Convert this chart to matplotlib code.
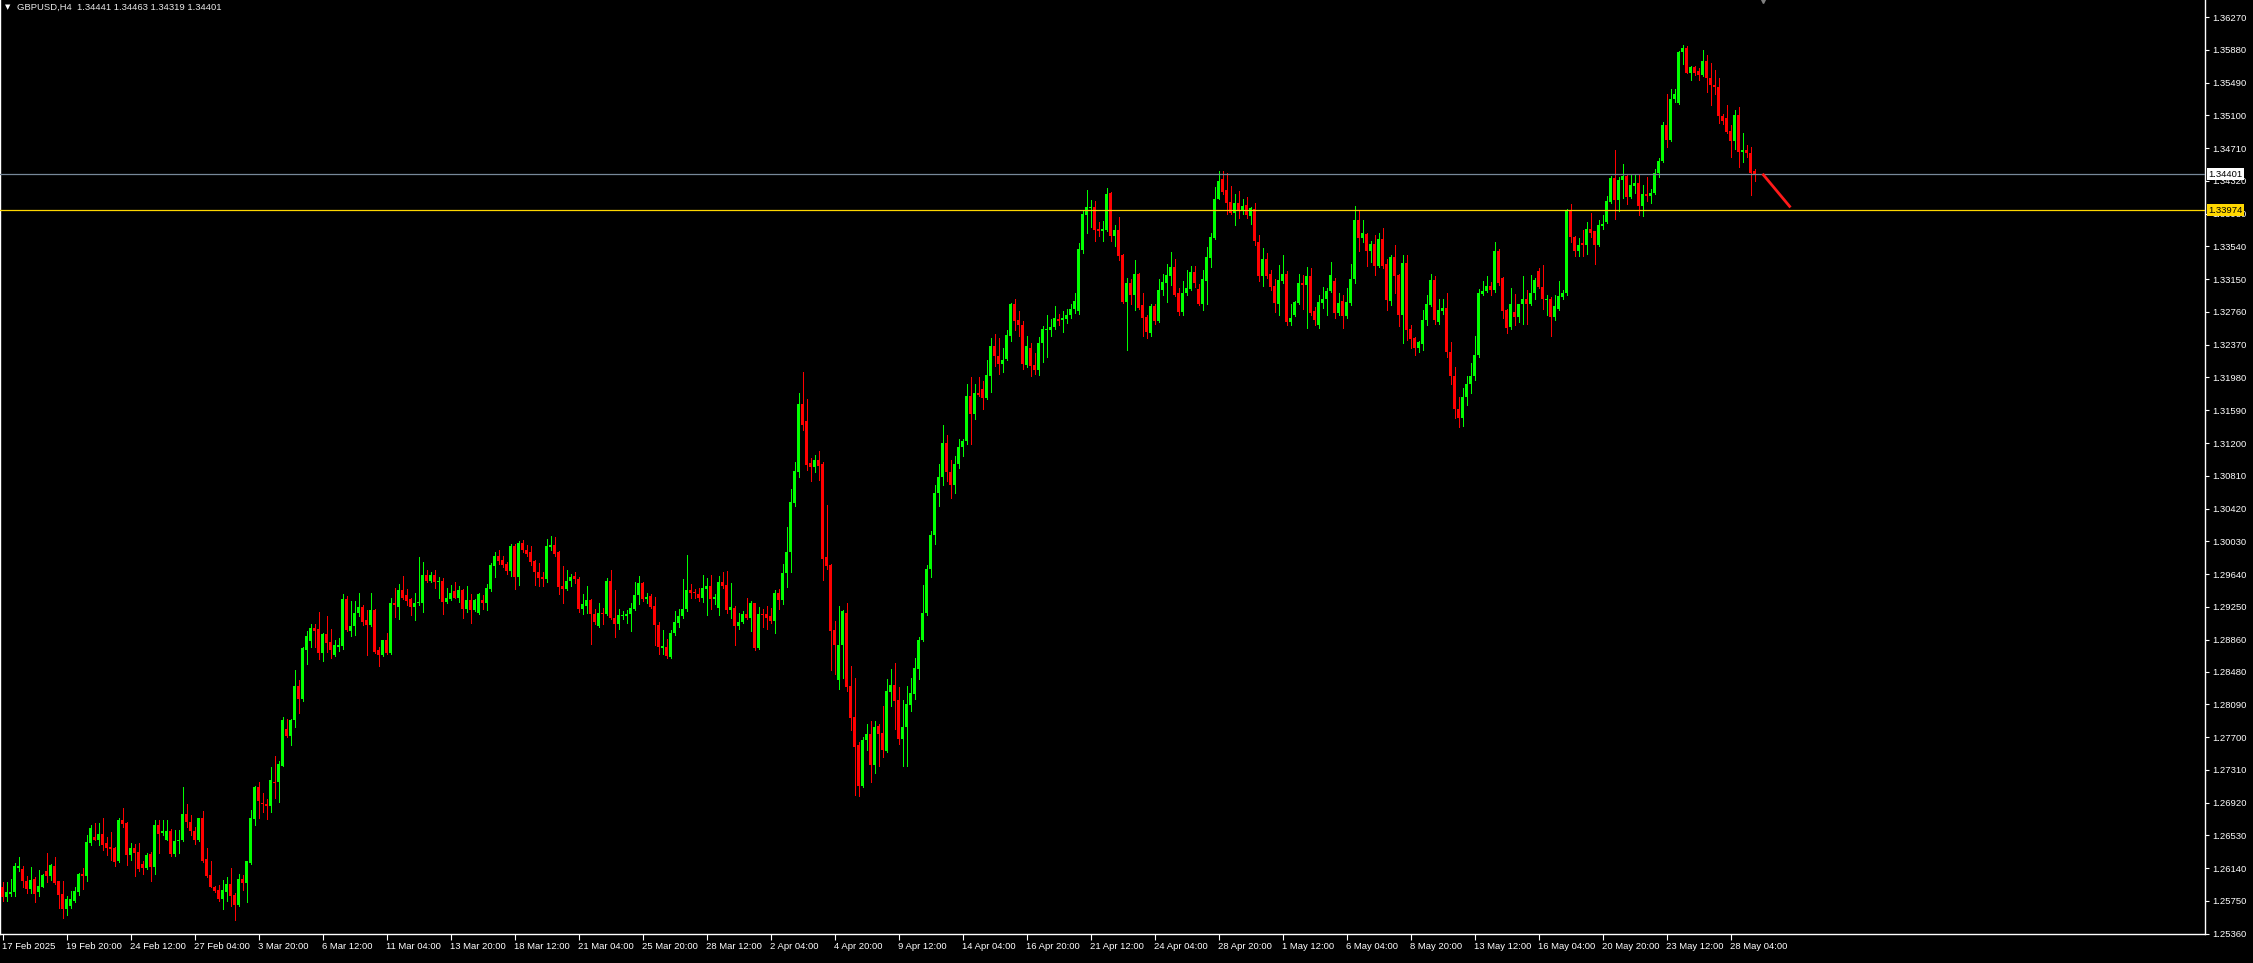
import numpy as np
import matplotlib.pyplot as plt
from matplotlib.transforms import blended_transform_factory

# GBPUSD H4 candles, prices in units of 0.0001
opens = [
    12592, 12579, 12583, 12585, 12614, 12613, 12599, 12589, 12601, 12585,
    12592, 12610, 12605, 12617, 12598, 12583, 12565, 12569, 12575, 12586,
    12607, 12605, 12644, 12651, 12648, 12654, 12644, 12639, 12638, 12622,
    12671, 12668, 12630, 12638, 12633, 12619, 12614, 12631, 12615, 12665,
    12656, 12648, 12658, 12631, 12646, 12647, 12678, 12669, 12658, 12647,
    12673, 12625, 12606, 12591, 12588, 12577, 12586, 12595, 12582, 12570,
    12601, 12596, 12620, 12672, 12710, 12692, 12690, 12688, 12717, 12716,
    12736, 12780, 12771, 12790, 12831, 12815, 12874, 12884, 12900, 12898,
    12870, 12893, 12883, 12868, 12877, 12878, 12934, 12896, 12902, 12918,
    12925, 12909, 12903, 12921, 12873, 12868, 12885, 12870, 12930, 12925,
    12945, 12939, 12934, 12925, 12929, 12930, 12963, 12956, 12963, 12954,
    12956, 12931, 12934, 12944, 12936, 12945, 12923, 12933, 12921, 12918,
    12933, 12929, 12946, 12974, 12986, 12981, 12976, 12968, 12997, 12961,
    13001, 12993, 12990, 12979, 12967, 12961, 12958, 12996, 12998, 12990,
    12950, 12946, 12956, 12962, 12958, 12922, 12926, 12933, 12916, 12902,
    12918, 12917, 12956, 12912, 12904, 12914, 12914, 12916, 12923, 12939,
    12953, 12934, 12938, 12926, 12903, 12876, 12877, 12865, 12894, 12906,
    12914, 12922, 12945, 12942, 12940, 12935, 12946, 12950, 12934, 12924,
    12955, 12951, 12921, 12924, 12902, 12907, 12916, 12912, 12929, 12876,
    12916, 12916, 12914, 12908, 12942, 12933, 12965, 12990, 13049, 13086,
    13167, 13146, 13096, 13092, 13100, 13095, 12984, 12975, 12897, 12838,
    12879, 12918, 12831, 12794, 12760, 12712, 12767, 12773, 12737, 12783,
    12775, 12753, 12824, 12832, 12814, 12768, 12782, 12808, 12821, 12851,
    12885, 12918, 12970, 13010, 13060, 13080, 13120, 13085, 13070, 13095,
    13115, 13122, 13176, 13154, 13180, 13184, 13174, 13200, 13236, 13224,
    13214, 13220, 13248, 13285, 13267, 13261, 13213, 13233, 13213, 13207,
    13239, 13254, 13255, 13258, 13268, 13267, 13268, 13272, 13279, 13277,
    13350, 13392, 13400, 13401, 13375, 13373, 13374, 13418, 13367, 13374,
    13344, 13288, 13310, 13296, 13321, 13284, 13270, 13251, 13283, 13265,
    13302, 13311, 13319, 13329, 13298, 13276, 13298, 13303, 13323, 13303,
    13285, 13313, 13340, 13364, 13411, 13434, 13421, 13407, 13394, 13406,
    13397, 13403, 13390, 13399, 13359, 13319, 13339, 13321, 13307, 13286,
    13313, 13321, 13264, 13272, 13287, 13311, 13308, 13319, 13277, 13260,
    13287, 13292, 13301, 13313, 13275, 13289, 13271, 13287, 13315, 13385,
    13364, 13369, 13349, 13357, 13331, 13363, 13333, 13289, 13341, 13320,
    13273, 13334, 13256, 13245, 13233, 13238, 13266, 13284, 13314, 13264,
    13277, 13281, 13228, 13200, 13160, 13150, 13175, 13190, 13200, 13225,
    13297, 13301, 13307, 13302, 13348, 13316, 13278, 13258, 13276, 13270,
    13285, 13292, 13285, 13298, 13325, 13306, 13290, 13292, 13270, 13279,
    13294, 13298, 13397, 13365, 13349, 13358, 13356, 13375, 13372, 13356,
    13378, 13383, 13407, 13435, 13409, 13433, 13438, 13413, 13426, 13430,
    13402, 13417, 13414, 13418, 13441, 13456, 13499, 13481, 13529, 13525,
    13585, 13590, 13561, 13568, 13563, 13558, 13575, 13554, 13546, 13544,
    13509, 13507, 13492, 13479, 13511, 13467, 13469, 13465, 13444.1,
]
highs = [
    12597, 12597, 12601, 12620, 12627, 12616, 12604, 12615, 12603, 12612,
    12607, 12632, 12619, 12627, 12599, 12599, 12581, 12587, 12592, 12608,
    12614, 12653, 12665, 12668, 12668, 12673, 12651, 12657, 12639, 12673,
    12685, 12669, 12644, 12643, 12644, 12622, 12632, 12633, 12671, 12671,
    12671, 12671, 12660, 12659, 12659, 12710, 12690, 12677, 12663, 12674,
    12682, 12638, 12623, 12593, 12594, 12600, 12603, 12614, 12584, 12607,
    12606, 12623, 12683, 12712, 12717, 12703, 12696, 12734, 12747, 12741,
    12794, 12792, 12792, 12850, 12838, 12877, 12896, 12904, 12904, 12919,
    12894, 12914, 12899, 12885, 12888, 12940, 12938, 12932, 12932, 12942,
    12927, 12921, 12942, 12922, 12877, 12886, 12894, 12936, 12947, 12952,
    12962, 12946, 12936, 12942, 12984, 12978, 12969, 12966, 12969, 12961,
    12959, 12947, 12951, 12954, 12950, 12946, 12950, 12940, 12934, 12941,
    12939, 12952, 12977, 12990, 12993, 12985, 12978, 13000, 13000, 13003,
    13005, 12998, 12997, 12981, 12977, 12967, 13006, 13009, 13008, 12991,
    12974, 12969, 12964, 12967, 12960, 12940, 12950, 12934, 12923, 12929,
    12924, 12959, 12969, 12945, 12923, 12920, 12921, 12930, 12955, 12962,
    12954, 12942, 12940, 12937, 12907, 12897, 12887, 12897, 12920, 12923,
    12958, 12987, 12952, 12946, 12947, 12963, 12959, 12963, 12940, 12962,
    12967, 12968, 12953, 12926, 12918, 12920, 12935, 12932, 12930, 12925,
    12923, 12926, 12924, 12945, 12946, 12976, 13020, 13065, 13097, 13180,
    13204, 13172, 13102, 13106, 13110, 13097, 13046, 12976, 12908, 12926,
    12921, 12929, 12855, 12840, 12764, 12770, 12785, 12789, 12789, 12785,
    12807, 12839, 12851, 12858, 12830, 12814, 12831, 12840, 12864, 12889,
    12951, 12975, 13015, 13070, 13095, 13142, 13130, 13100, 13105, 13125,
    13125, 13190, 13198, 13190, 13198, 13194, 13219, 13245, 13250, 13245,
    13233, 13255, 13287, 13291, 13277, 13265, 13248, 13239, 13227, 13246,
    13259, 13272, 13268, 13283, 13274, 13277, 13279, 13285, 13298, 13358,
    13396, 13421, 13409, 13408, 13383, 13384, 13424, 13419, 13379, 13389,
    13345, 13317, 13315, 13338, 13323, 13299, 13272, 13285, 13286, 13315,
    13321, 13333, 13348, 13339, 13304, 13313, 13326, 13331, 13331, 13309,
    13326, 13353, 13370, 13425, 13444, 13444, 13442, 13426, 13417, 13420,
    13410, 13413, 13401, 13406, 13368, 13352, 13346, 13326, 13315, 13332,
    13344, 13325, 13286, 13289, 13321, 13320, 13329, 13328, 13282, 13296,
    13306, 13305, 13335, 13316, 13299, 13296, 13304, 13333, 13402, 13396,
    13386, 13370, 13360, 13368, 13370, 13376, 13339, 13344, 13356, 13321,
    13344, 13344, 13261, 13246, 13241, 13278, 13296, 13321, 13319, 13292,
    13292, 13298, 13240, 13210, 13175, 13185, 13200, 13215, 13248, 13303,
    13313, 13319, 13312, 13359, 13351, 13318, 13279, 13304, 13297, 13286,
    13319, 13302, 13320, 13317, 13328, 13332, 13296, 13294, 13296, 13313,
    13302, 13398, 13404, 13367, 13364, 13374, 13383, 13394, 13373, 13386,
    13391, 13414, 13438, 13469, 13437, 13452, 13440, 13440, 13440, 13440,
    13427, 13437, 13422, 13446, 13459, 13502, 13535, 13541, 13541, 13587,
    13594, 13593, 13569, 13569, 13567, 13588, 13582, 13573, 13564, 13554,
    13512, 13523, 13498, 13517, 13520, 13489, 13475, 13472, 13446.3,
]
lows = [
    12575, 12575, 12581, 12581, 12611, 12591, 12584, 12584, 12574, 12581,
    12591, 12597, 12600, 12595, 12566, 12554, 12558, 12567, 12573, 12582,
    12589, 12598, 12641, 12647, 12641, 12635, 12629, 12624, 12617, 12621,
    12663, 12618, 12624, 12604, 12610, 12607, 12613, 12598, 12607, 12632,
    12653, 12648, 12628, 12628, 12632, 12646, 12663, 12653, 12643, 12646,
    12621, 12603, 12591, 12586, 12575, 12565, 12575, 12569, 12552, 12569,
    12588, 12574, 12619, 12665, 12673, 12681, 12672, 12681, 12697, 12693,
    12735, 12770, 12761, 12782, 12798, 12813, 12857, 12877, 12877, 12863,
    12860, 12871, 12864, 12867, 12872, 12875, 12896, 12890, 12891, 12914,
    12903, 12868, 12902, 12870, 12855, 12867, 12869, 12869, 12913, 12911,
    12934, 12927, 12915, 12909, 12927, 12919, 12954, 12955, 12948, 12936,
    12916, 12930, 12933, 12935, 12931, 12912, 12919, 12906, 12920, 12917,
    12923, 12921, 12944, 12961, 12976, 12973, 12964, 12962, 12946, 12951,
    12990, 12986, 12975, 12951, 12950, 12950, 12954, 12993, 12986, 12940,
    12930, 12945, 12950, 12953, 12919, 12916, 12918, 12881, 12905, 12901,
    12905, 12915, 12911, 12889, 12899, 12911, 12906, 12896, 12921, 12928,
    12932, 12929, 12924, 12879, 12869, 12869, 12864, 12864, 12892, 12901,
    12912, 12920, 12935, 12935, 12932, 12931, 12915, 12923, 12928, 12915,
    12947, 12918, 12912, 12879, 12898, 12906, 12911, 12896, 12873, 12875,
    12901, 12898, 12906, 12894, 12923, 12928, 12949, 12967, 13045, 13079,
    13135, 13088, 13075, 13086, 13076, 12957, 12970, 12850, 12845, 12827,
    12840, 12825, 12778, 12701, 12700, 12711, 12755, 12717, 12727, 12735,
    12746, 12752, 12807, 12779, 12762, 12735, 12735, 12801, 12815, 12839,
    12884, 12915, 12960, 13000, 13045, 13070, 13075, 13055, 13060, 13090,
    13105, 13119, 13119, 13149, 13176, 13161, 13173, 13181, 13212, 13202,
    13204, 13219, 13242, 13255, 13248, 13208, 13210, 13200, 13202, 13201,
    13217, 13223, 13248, 13256, 13260, 13252, 13263, 13269, 13275, 13274,
    13346, 13370, 13377, 13361, 13366, 13360, 13373, 13361, 13354, 13338,
    13287, 13231, 13285, 13278, 13280, 13248, 13245, 13247, 13262, 13264,
    13296, 13288, 13308, 13295, 13272, 13272, 13296, 13302, 13306, 13284,
    13278, 13286, 13330, 13363, 13410, 13417, 13393, 13393, 13379, 13388,
    13393, 13388, 13381, 13356, 13313, 13307, 13317, 13302, 13276, 13273,
    13311, 13260, 13260, 13271, 13286, 13280, 13257, 13272, 13261, 13257,
    13281, 13273, 13300, 13269, 13273, 13257, 13269, 13284, 13311, 13349,
    13359, 13331, 13336, 13320, 13330, 13328, 13278, 13284, 13299, 13259,
    13239, 13243, 13233, 13225, 13228, 13231, 13261, 13283, 13262, 13262,
    13274, 13222, 13190, 13150, 13139, 13140, 13165, 13180, 13195, 13222,
    13296, 13300, 13296, 13300, 13308, 13269, 13251, 13256, 13260, 13264,
    13262, 13262, 13284, 13291, 13304, 13280, 13272, 13248, 13266, 13278,
    13292, 13296, 13359, 13343, 13343, 13343, 13345, 13365, 13333, 13354,
    13375, 13382, 13406, 13387, 13396, 13412, 13405, 13412, 13418, 13391,
    13390, 13408, 13406, 13416, 13437, 13454, 13473, 13480, 13526, 13524,
    13571, 13560, 13552, 13558, 13552, 13557, 13538, 13522, 13535, 13501,
    13500, 13489, 13460, 13470, 13449, 13454, 13460, 13415, 13431.9,
]
closes = [
    12579, 12585, 12586, 12616, 12616, 12598, 12589, 12600, 12583, 12593,
    12606, 12605, 12618, 12596, 12582, 12565, 12577, 12577, 12587, 12607,
    12604, 12645, 12662, 12648, 12654, 12642, 12638, 12637, 12621, 12671,
    12666, 12630, 12638, 12632, 12613, 12614, 12630, 12615, 12665, 12655,
    12658, 12658, 12631, 12646, 12648, 12678, 12669, 12658, 12647, 12673,
    12623, 12605, 12592, 12587, 12577, 12588, 12595, 12581, 12570, 12601,
    12596, 12622, 12673, 12711, 12694, 12690, 12688, 12719, 12715, 12738,
    12790, 12771, 12790, 12831, 12815, 12876, 12890, 12900, 12896, 12870,
    12893, 12882, 12874, 12880, 12880, 12934, 12897, 12902, 12918, 12925,
    12907, 12903, 12921, 12871, 12868, 12885, 12870, 12930, 12927, 12945,
    12935, 12932, 12925, 12930, 12931, 12963, 12956, 12963, 12954, 12956,
    12931, 12935, 12941, 12936, 12945, 12923, 12933, 12921, 12933, 12940,
    12929, 12947, 12975, 12986, 12979, 12975, 12968, 12997, 12961, 13001,
    12993, 12988, 12978, 12966, 12959, 12958, 12997, 12998, 12988, 12949,
    12946, 12956, 12961, 12958, 12923, 12928, 12933, 12916, 12907, 12918,
    12917, 12956, 12912, 12904, 12915, 12915, 12916, 12924, 12939, 12953,
    12934, 12937, 12925, 12903, 12877, 12878, 12866, 12894, 12907, 12914,
    12923, 12945, 12942, 12941, 12935, 12947, 12950, 12934, 12937, 12955,
    12950, 12921, 12925, 12902, 12907, 12916, 12912, 12930, 12876, 12916,
    12915, 12912, 12908, 12942, 12933, 12965, 12990, 13050, 13087, 13167,
    13142, 13094, 13092, 13100, 13093, 12982, 12974, 12896, 12879, 12880,
    12920, 12830, 12793, 12758, 12712, 12767, 12773, 12737, 12782, 12774,
    12755, 12825, 12832, 12813, 12768, 12782, 12809, 12822, 12852, 12886,
    12918, 12970, 13010, 13060, 13080, 13120, 13085, 13070, 13095, 13115,
    13122, 13176, 13154, 13180, 13177, 13174, 13201, 13236, 13224, 13214,
    13219, 13248, 13285, 13265, 13260, 13214, 13236, 13212, 13207, 13239,
    13256, 13256, 13258, 13269, 13265, 13269, 13273, 13280, 13289, 13351,
    13393, 13401, 13401, 13374, 13372, 13375, 13417, 13367, 13374, 13343,
    13288, 13310, 13296, 13321, 13281, 13269, 13252, 13283, 13265, 13302,
    13312, 13320, 13329, 13296, 13276, 13298, 13304, 13323, 13311, 13285,
    13315, 13341, 13365, 13411, 13432, 13419, 13406, 13394, 13406, 13397,
    13402, 13391, 13400, 13360, 13319, 13339, 13319, 13306, 13287, 13314,
    13321, 13264, 13269, 13288, 13311, 13308, 13319, 13275, 13266, 13288,
    13292, 13301, 13320, 13275, 13287, 13271, 13288, 13315, 13385, 13364,
    13370, 13349, 13357, 13331, 13363, 13331, 13290, 13341, 13319, 13273,
    13334, 13255, 13244, 13233, 13240, 13267, 13286, 13314, 13266, 13278,
    13281, 13228, 13200, 13160, 13150, 13175, 13190, 13200, 13225, 13299,
    13301, 13307, 13302, 13348, 13311, 13277, 13257, 13285, 13270, 13285,
    13292, 13285, 13298, 13314, 13306, 13291, 13292, 13270, 13283, 13295,
    13299, 13397, 13365, 13349, 13356, 13356, 13375, 13370, 13356, 13380,
    13381, 13408, 13435, 13409, 13433, 13438, 13413, 13427, 13430, 13402,
    13417, 13414, 13418, 13441, 13456, 13499, 13481, 13530, 13536, 13586,
    13590, 13561, 13568, 13561, 13558, 13575, 13554, 13546, 13544, 13509,
    13503, 13490, 13479, 13511, 13467, 13469, 13465, 13442, 13440.1,
]

time_labels = ['17 Feb 2025', '19 Feb 20:00', '24 Feb 12:00', '27 Feb 04:00', '3 Mar 20:00',
               '6 Mar 12:00', '11 Mar 04:00', '13 Mar 20:00', '18 Mar 12:00', '21 Mar 04:00',
               '25 Mar 20:00', '28 Mar 12:00', '2 Apr 04:00', '4 Apr 20:00', '9 Apr 12:00',
               '14 Apr 04:00', '16 Apr 20:00', '21 Apr 12:00', '24 Apr 04:00', '28 Apr 20:00',
               '1 May 12:00', '6 May 04:00', '8 May 20:00', '13 May 12:00', '16 May 04:00',
               '20 May 20:00', '23 May 12:00', '28 May 04:00']
bars_per_label = 16

price_ticks = [1.25360, 1.25750, 1.26140, 1.26530, 1.26920, 1.27310, 1.27700, 1.28090,
               1.28480, 1.28860, 1.29250, 1.29640, 1.30030, 1.30420, 1.30810, 1.31200,
               1.31590, 1.31980, 1.32370, 1.32760, 1.33150, 1.33540, 1.33930, 1.34320,
               1.34710, 1.35100, 1.35490, 1.35880, 1.36270]

bid_price = 1.34401
level_price = 1.33974
trend_x = [440, 447]
trend_y = [1.34405, 1.34005]
header = 'GBPUSD,H4  1.34441 1.34463 1.34319 1.34401'

o = np.array(opens) / 10000
h = np.array(highs) / 10000
l = np.array(lows) / 10000
c = np.array(closes) / 10000
idx = np.arange(len(c))
up = c >= o
colors = np.where(up, '#00ff00', '#ff0000')

W, H = 2253, 963
plt.rcParams['font.family'] = ['Liberation Sans', 'DejaVu Sans']
fig = plt.figure(figsize=(W / 100, H / 100), dpi=100, facecolor='black')
ax = fig.add_axes([0, 29 / H, 2205 / W, 934 / H])
ax.set_facecolor('black')

# wicks and bodies
ax.vlines(idx, np.minimum(l, np.minimum(o, c)), np.maximum(h, np.maximum(o, c)),
          colors=colors, linewidth=0.72, antialiased=False, zorder=2)
body_h = np.maximum(np.abs(c - o), 0.00012)
ax.bar(idx, body_h, bottom=np.minimum(o, c), width=0.75, color=colors,
       linewidth=0, antialiased=False, zorder=3)

# horizontal lines
ax.axhline(bid_price, color='#778899', linewidth=0.9, zorder=4)
ax.axhline(level_price, color='#ffd700', linewidth=0.9, zorder=4)

# red trend line
ax.plot(trend_x, trend_y, color='#ff1a1a', linewidth=2.0, solid_capstyle='butt', zorder=5)

ax.set_xlim(-0.625, 550.625)
ax.set_ylim(1.25355, 1.25355 + 934 / 8400)

# axes frame
for side in ['left', 'right', 'bottom']:
    ax.spines[side].set_color('white')
    ax.spines[side].set_linewidth(1.0)
ax.spines['top'].set_visible(False)

# time axis
ax.set_xticks(np.arange(len(time_labels)) * bars_per_label)
ax.set_xticklabels(time_labels)
for lab in ax.get_xticklabels():
    lab.set_horizontalalignment('left')
ax.tick_params(axis='x', colors='white', length=4, width=0.8, pad=2, labelsize=6.8)

# price axis
ax.yaxis.tick_right()
ax.set_yticks(price_ticks)
ax.set_yticklabels([f'{p:.5f}' for p in price_ticks])
ax.tick_params(axis='y', colors='white', length=3, width=0.8, pad=2, labelsize=6.8)

# price tags for the lines
tr = blended_transform_factory(ax.transAxes, ax.transData)
ax.text(1.0 + 3 / 2205, bid_price, f'{bid_price:.5f}', transform=tr, ha='left', va='center',
        fontsize=6.8, color='black', clip_on=False, zorder=10,
        bbox=dict(facecolor='white', edgecolor='none', boxstyle='square,pad=0.15'))
ax.text(1.0 + 3 / 2205, level_price, f'{level_price:.5f}', transform=tr, ha='left', va='center',
        fontsize=6.8, color='black', clip_on=False, zorder=10,
        bbox=dict(facecolor='#ffd700', edgecolor='none', boxstyle='square,pad=0.15'))

# chart shift marker
ax.plot([440], [1.0], transform=blended_transform_factory(ax.transData, ax.transAxes),
        marker='v', markersize=5, color='#808080', clip_on=False, zorder=6)

# header
fig.text(5 / W, 1 - 7 / H, '\u25bc', color='white', fontsize=5, va='center', ha='left',
         family='DejaVu Sans')
fig.text(17 / W, 1 - 7 / H, header, color='#e8e8e8', fontsize=6.8, va='center', ha='left')

fig.savefig('out.png', dpi=100, facecolor='black')
